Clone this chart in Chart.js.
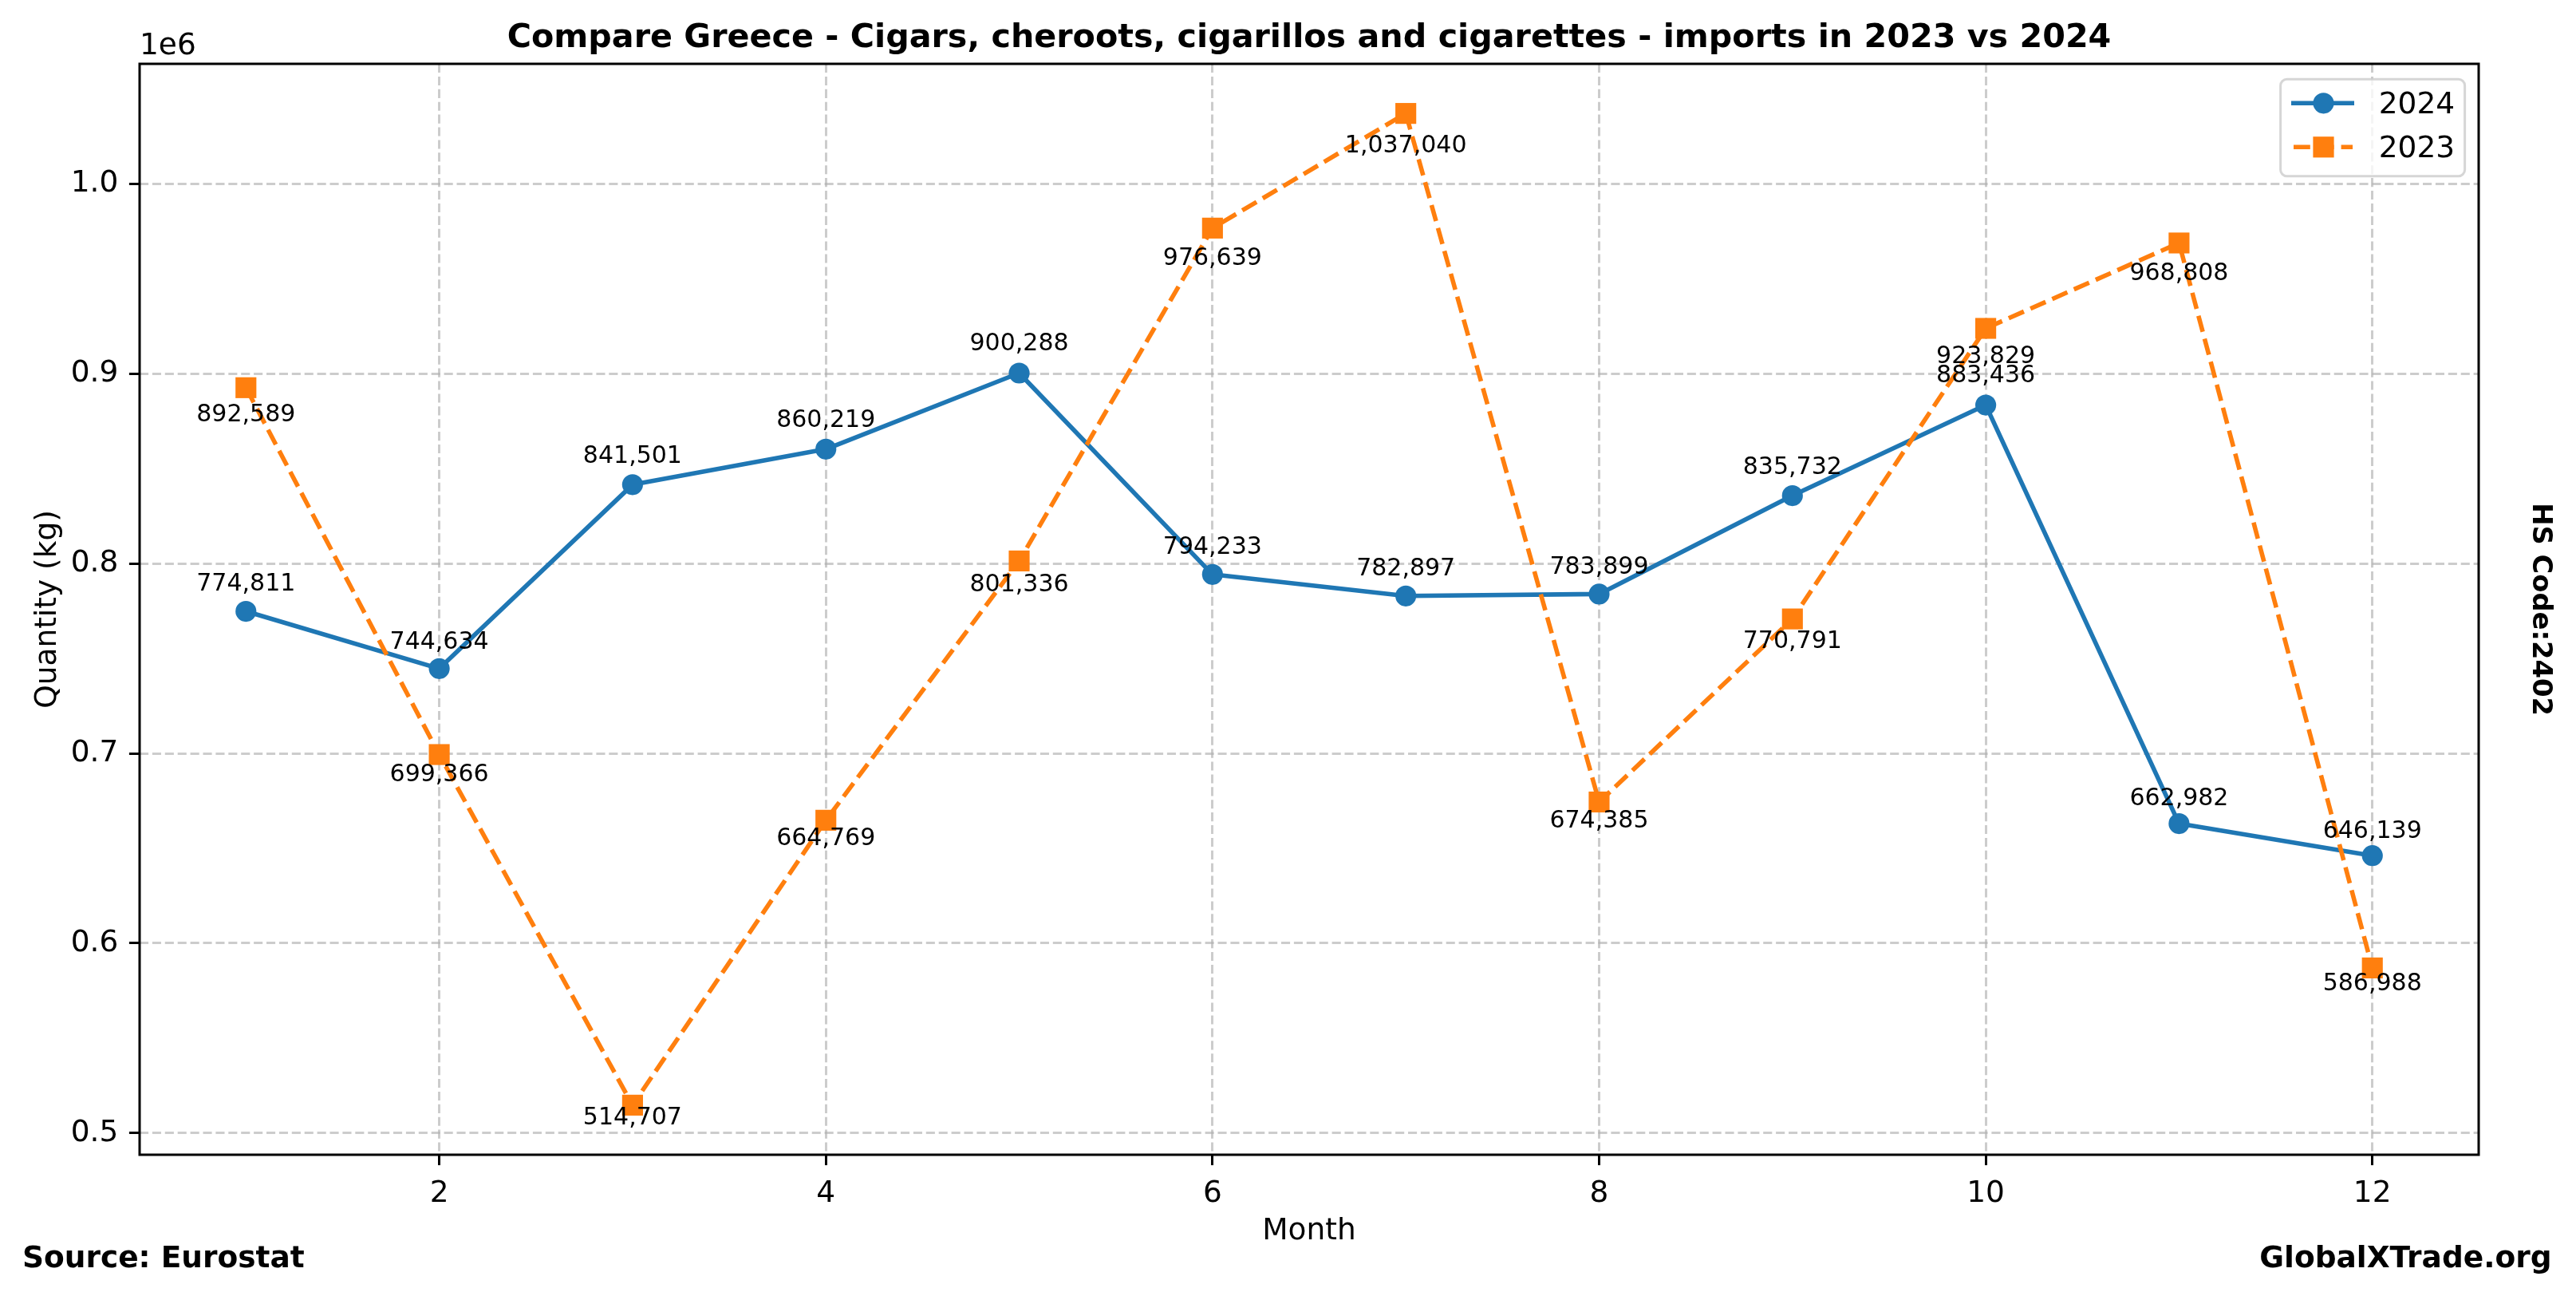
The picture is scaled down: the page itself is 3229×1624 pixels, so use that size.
<!DOCTYPE html>
<html>
<head>
<meta charset="utf-8">
<title>Compare Greece - imports 2023 vs 2024</title>
<script src="https://cdn.jsdelivr.net/npm/chart.js@4.4.1/dist/chart.umd.min.js"></script>
<style>
  html, body { margin: 0; padding: 0; background: #fff; }
  #wrap { width: 3229px; height: 1624px; }
</style>
</head>
<body>
<div id="wrap"><canvas id="line-chart" width="3229" height="1624"></canvas></div>
<script>
// datos
const months = [1, 2, 3, 4, 5, 6, 7, 8, 9, 10, 11, 12];
const imports2024 = [774811, 744634, 841501, 860219, 900288, 794233, 782897, 783899, 835732, 883436, 662982, 646139];
const imports2023 = [892589, 699366, 514707, 664769, 801336, 976639, 1037040, 674385, 770791, 923829, 968808, 586988];
const xTicks = [2, 4, 6, 8, 10, 12];
const yTicks = [500000, 600000, 700000, 800000, 900000, 1000000];
const seriesNames = ['2024', '2023'];

const titleText = 'Compare Greece - Cigars, cheroots, cigarillos and cigarettes - imports in 2023 vs 2024';
const FONT = '"DejaVu Sans"';
const BLUE = '#1f77b4';
const ORANGE = '#ff7f0e';
const DASH = [20.8, 9];

const fmt = v => v.toLocaleString('en-US');

// textos, marco, etiquetas y leyenda
const decorations = {
    id: 'decorations',
    afterDatasetsDraw(chart) {
        const ctx = chart.ctx;
        const area = chart.chartArea;
        const xs = chart.scales.x;
        const ys = chart.scales.y;
        ctx.save();

        // marco de los ejes
        ctx.strokeStyle = '#000';
        ctx.lineWidth = 3;
        ctx.strokeRect(area.left, area.top, area.right - area.left, area.bottom - area.top);

        // etiquetas de valores
        ctx.font = '30px ' + FONT;
        ctx.fillStyle = '#000';
        ctx.textAlign = 'center';
        ctx.textBaseline = 'alphabetic';
        months.forEach((m, i) => {
            const px = xs.getPixelForValue(m);
            ctx.fillText(fmt(imports2024[i]), px, ys.getPixelForValue(imports2024[i] * 1.01) - 7.1);
            ctx.fillText(fmt(imports2023[i]), px, ys.getPixelForValue(imports2023[i] * 0.98));
        });

        // leyenda
        const L = area.right - 248.4;
        const T = area.top + 19.3;
        ctx.beginPath();
        ctx.roundRect(L, T, 231, 121.4, 8);
        ctx.fillStyle = 'rgba(255,255,255,0.8)';
        ctx.fill();
        ctx.strokeStyle = 'rgba(204,204,204,0.8)';
        ctx.lineWidth = 3;
        ctx.stroke();

        ctx.lineWidth = 5.6;
        ctx.strokeStyle = BLUE;
        ctx.beginPath();
        ctx.moveTo(L + 13.4, T + 30);
        ctx.lineTo(L + 92.4, T + 30);
        ctx.stroke();
        ctx.fillStyle = BLUE;
        ctx.beginPath();
        ctx.arc(L + 53.9, T + 30, 13.1, 0, Math.PI * 2);
        ctx.fill();

        ctx.strokeStyle = ORANGE;
        ctx.setLineDash(DASH);
        ctx.beginPath();
        ctx.moveTo(L + 16.4, T + 85);
        ctx.lineTo(L + 90.4, T + 85);
        ctx.stroke();
        ctx.setLineDash([]);
        ctx.fillStyle = ORANGE;
        ctx.fillRect(L + 53.9 - 13.1, T + 85 - 13.1, 26.2, 26.2);

        ctx.fillStyle = '#000';
        ctx.font = '37.5px ' + FONT;
        ctx.textAlign = 'left';
        ctx.fillText(seriesNames[0], L + 123.1, T + 42.6);
        ctx.fillText(seriesNames[1], L + 123.1, T + 97.6);

        ctx.restore();
    },
    afterDraw(chart) {
        const ctx = chart.ctx;
        const area = chart.chartArea;
        const midX = (area.left + area.right) / 2;
        const midY = (area.top + area.bottom) / 2;
        ctx.save();
        ctx.fillStyle = '#000';
        ctx.textBaseline = 'alphabetic';

        ctx.font = 'bold 41.25px ' + FONT;
        ctx.textAlign = 'center';
        ctx.fillText(titleText, midX, 59);

        ctx.font = '37.5px ' + FONT;
        ctx.textAlign = 'left';
        ctx.fillText('1e6', area.left, 68);

        ctx.textAlign = 'center';
        ctx.fillText('Month', midX, 1552.5);

        ctx.save();
        ctx.translate(69.5, midY);
        ctx.rotate(-Math.PI / 2);
        ctx.fillText('Quantity (kg)', 0, 0);
        ctx.restore();

        ctx.font = 'bold 33.75px ' + FONT;
        ctx.save();
        ctx.translate(3175, midY);
        ctx.rotate(Math.PI / 2);
        ctx.fillText('HS Code:2402', 0, 0);
        ctx.restore();

        ctx.font = 'bold 37.5px ' + FONT;
        ctx.textAlign = 'left';
        ctx.fillText('Source: Eurostat', 28, 1588);
        ctx.textAlign = 'right';
        ctx.fillText('GlobalXTrade.org', 3198.5, 1588);
        ctx.restore();
    }
};

const gridCfg = {
    color: 'rgba(176,176,176,0.65)',
    lineWidth: 3,
    drawTicks: true,
    tickLength: 13.1,
    tickColor: '#000',
    tickWidth: 3
};

const ctx = document.getElementById('line-chart').getContext('2d');
const chart = new Chart(ctx, {
    type: 'line',
    data: {
        datasets: [
            {
                label: seriesNames[0],
                data: months.map((m, i) => ({ x: m, y: imports2024[i] })),
                borderColor: BLUE,
                backgroundColor: BLUE,
                borderWidth: 5.6,
                borderJoinStyle: 'round',
                pointStyle: 'circle',
                pointRadius: 13.1,
                pointBorderWidth: 0,
                pointBackgroundColor: BLUE,
                fill: false,
                tension: 0,
                order: 1
            },
            {
                label: seriesNames[1],
                data: months.map((m, i) => ({ x: m, y: imports2023[i] })),
                borderColor: ORANGE,
                backgroundColor: ORANGE,
                borderWidth: 5.6,
                borderDash: DASH,
                borderJoinStyle: 'round',
                pointStyle: 'rect',
                pointRadius: 18.5,
                pointBorderWidth: 0,
                pointBackgroundColor: ORANGE,
                fill: false,
                tension: 0,
                order: 0
            }
        ]
    },
    options: {
        responsive: false,
        animation: false,
        devicePixelRatio: 1,
        layout: { padding: { top: 80, right: 122, left: 0, bottom: 0 } },
        plugins: {
            legend: { display: false },
            title: { display: false },
            tooltip: { enabled: false }
        },
        scales: {
            x: {
                type: 'linear',
                min: 0.45,
                max: 12.55,
                afterBuildTicks: s => { s.ticks = xTicks.map(v => ({ value: v })); },
                afterFit: s => { s.height = 177; },
                grid: gridCfg,
                border: { display: false, dash: [11.1, 4.8] },
                ticks: {
                    autoSkip: false,
                    maxRotation: 0,
                    padding: 13.5,
                    color: '#000',
                    font: { family: 'DejaVu Sans', size: 37.5 },
                    callback: v => String(v)
                }
            },
            y: {
                type: 'linear',
                min: 488590,
                max: 1063157,
                afterBuildTicks: s => { s.ticks = yTicks.map(v => ({ value: v })); },
                afterFit: s => { s.width = 175; },
                grid: gridCfg,
                border: { display: false, dash: [11.1, 4.8] },
                ticks: {
                    autoSkip: false,
                    padding: 13.5,
                    color: '#000',
                    font: { family: 'DejaVu Sans', size: 37.5 },
                    callback: v => (v / 1e6).toFixed(1)
                }
            }
        }
    },
    plugins: [decorations]
});
</script>
</body>
</html>
